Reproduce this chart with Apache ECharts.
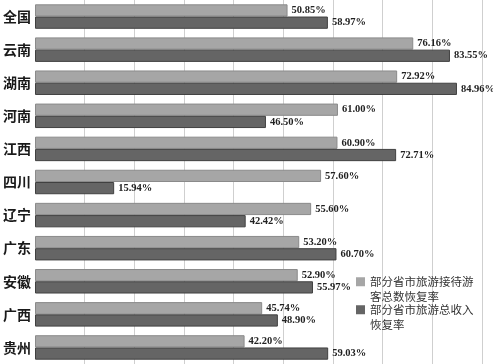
<!DOCTYPE html>
<html><head><meta charset="utf-8">
<script src="https://cdn.jsdelivr.net/npm/echarts@6/dist/echarts.min.js"></script>
<style>html,body{margin:0;padding:0;background:#fff}#c{width:493px;height:364px}</style>
</head><body><div id="c"></div>
<script>
const categories = ['全国','云南','湖南','河南','江西','四川','辽宁','广东','安徽','广西','贵州'];
const visitorRecovery = [50.85,76.16,72.92,61.00,60.90,57.60,55.60,53.20,52.90,45.74,42.20];
const revenueRecovery = [58.97,83.55,84.96,46.50,72.71,15.94,42.42,60.70,55.97,48.90,59.03];
const seriesNames = ['部分省市旅游接待游客总数恢复率','部分省市旅游总收入恢复率'];
const legendLines = {
  '部分省市旅游接待游客总数恢复率':'部分省市旅游接待游\n客总数恢复率',
  '部分省市旅游总收入恢复率':'部分省市旅游总收入\n恢复率'
};

const chart = echarts.init(document.getElementById('c'), null, {renderer:'canvas'});
const labelStyle = {
  show:true, position:'right', distance:4,
  fontFamily:'Liberation Serif', fontSize:10.5, fontWeight:'bold', color:'#222',
  formatter: p => p.value.toFixed(2) + '%'
};
const legendText = {
  fontFamily:'Noto Sans CJK SC', fontSize:11.5, color:'#333', lineHeight:14.5
};
const legendBase = {
  orient:'vertical', left:356, padding:0, itemWidth:9, itemHeight:9, icon:'rect', itemGap:0,
  itemStyle:{borderWidth:0},
  formatter:n => '\n' + legendLines[n], textStyle:legendText
};
chart.setOption({
  animation:false,
  backgroundColor:'#fff',
  grid:{left:35, top:-3, width:447, height:371, containLabel:false},
  xAxis:{
    type:'value', min:0, max:90, interval:10,
    axisLabel:{show:false}, axisTick:{show:false}, axisLine:{show:false},
    splitLine:{show:true, lineStyle:{color:'#cfcfcf', width:1}}
  },
  yAxis:{
    type:'category', data:categories, inverse:true,
    axisTick:{show:false},
    axisLine:{show:true, lineStyle:{color:'#fff', width:2}},
    axisLabel:{margin:4, fontFamily:'Noto Sans CJK SC', fontSize:14, fontWeight:'bold', color:'#1a1a1a'}
  },
  legend:[
    Object.assign({}, legendBase, {data:[seriesNames[0]], top:260}),
    Object.assign({}, legendBase, {data:[seriesNames[1]], top:288})
  ],
  series:[
    {name:seriesNames[0], type:'bar', data:visitorRecovery, barGap:'0%', barCategoryGap:'26%',
     itemStyle:{color:'#a6a6a6', borderColor:'#8a8a8a', borderWidth:1},
     label:labelStyle},
    {name:seriesNames[1], type:'bar', data:revenueRecovery, barGap:'0%', barCategoryGap:'26%',
     itemStyle:{color:'#656565', borderColor:'#404040', borderWidth:1},
     label:labelStyle}
  ]
});
</script></body></html>
